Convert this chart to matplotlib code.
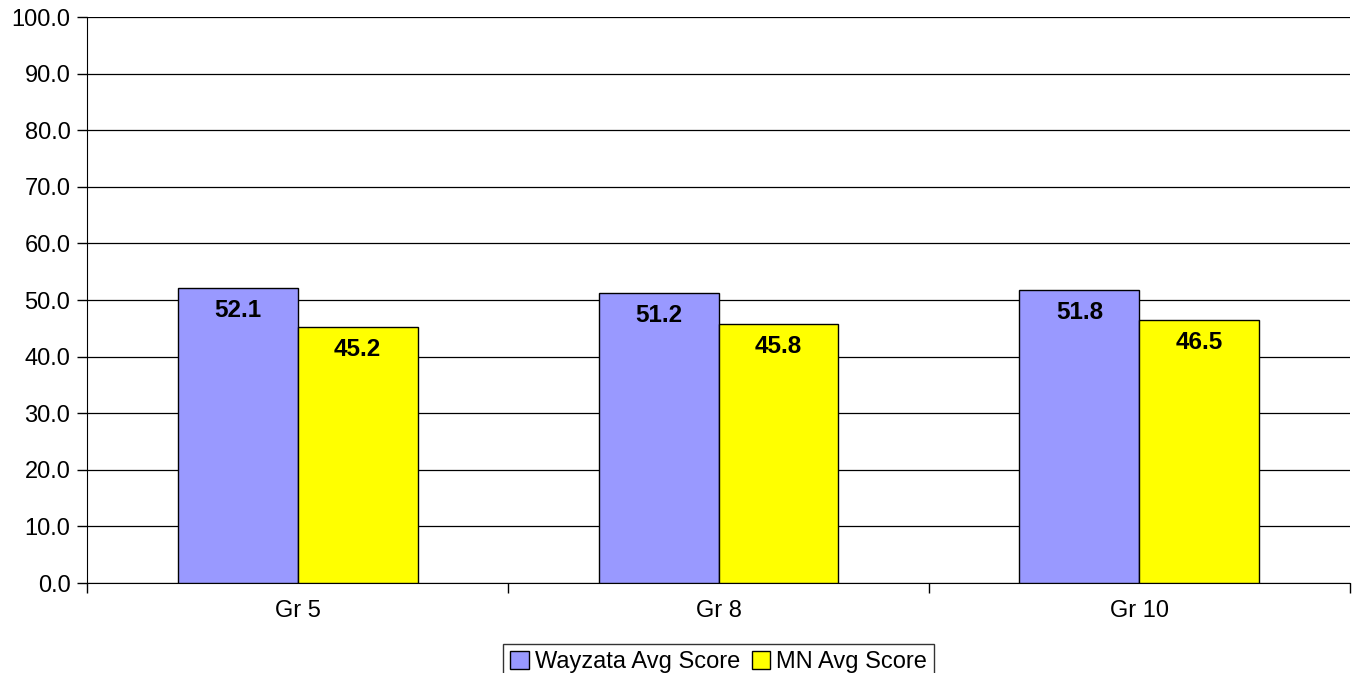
import numpy as np
import matplotlib
matplotlib.use('Agg')
import matplotlib.pyplot as plt

categories = ['Gr 5', 'Gr 8', 'Gr 10']
wayzata = [52.1, 51.2, 51.8]
mn = [45.2, 45.8, 46.5]
series_names = ['Wayzata Avg Score', 'MN Avg Score']

plt.rcParams['font.family'] = ['Liberation Sans', 'DejaVu Sans']

fig = plt.figure(figsize=(13.54, 6.73), dpi=100)
ax = fig.add_axes([0.0643, 0.1337, 0.9327, 0.841])

x = np.arange(len(categories))
w = 0.285
b1 = ax.bar(x - w / 2, wayzata, w, color='#9999FF', edgecolor='black', linewidth=1, label=series_names[0], zorder=3)
b2 = ax.bar(x + w / 2, mn, w, color='#FFFF00', edgecolor='black', linewidth=1, label=series_names[1], zorder=3)

for bars, vals in ((b1, wayzata), (b2, mn)):
	for rect, v in zip(bars, vals):
		ax.text(rect.get_x() + rect.get_width() / 2, v - 1.9, '%.1f' % v,
				ha='center', va='top', fontsize=17.5, fontweight='bold', zorder=4)

ax.set_xlim(-0.5, len(categories) - 0.5)
ax.set_ylim(0, 100)
ax.set_yticks(np.arange(0, 101, 10))
ax.set_yticklabels(['%.1f' % v for v in np.arange(0, 101, 10)], fontsize=17)
ax.set_xticks(x)
ax.set_xticklabels(categories, fontsize=17)
ax.tick_params(axis='x', length=0, pad=12)
ax.set_xticks(np.arange(-0.5, len(categories)), minor=True)
ax.tick_params(axis='x', which='minor', length=7, direction='out', width=1)
ax.tick_params(axis='y', length=7, direction='out', width=1, pad=5)
ax.yaxis.grid(True, color='black', linewidth=0.9, zorder=0)
ax.set_axisbelow(True)
for s in ('top', 'right'):
	ax.spines[s].set_visible(False)

leg = ax.legend(loc='upper center', bbox_to_anchor=(0.5, -0.108), ncol=2, fontsize=17,
				frameon=True, fancybox=False, edgecolor='black', handlelength=0.8,
				handleheight=0.8, handletextpad=0.25, columnspacing=0.5, borderpad=0.3,
				borderaxespad=0)
leg.get_frame().set_linewidth(1)

fig.savefig('out.png', dpi=100)
